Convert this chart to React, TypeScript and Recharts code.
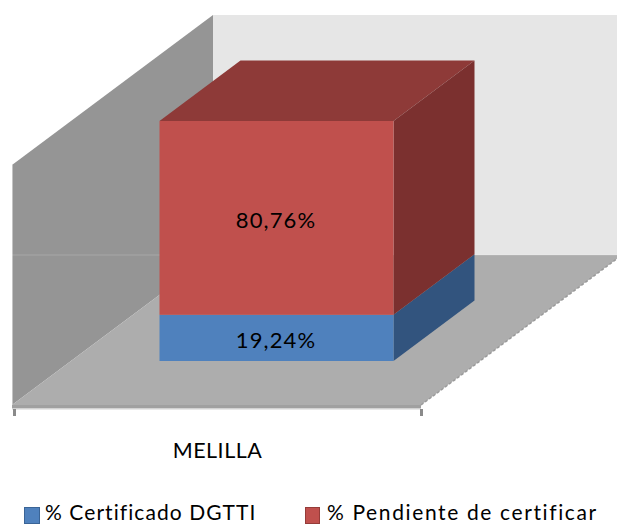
import React from "react";
import { BarChart, Bar, XAxis, YAxis, Legend, LabelList, Customized } from "recharts";

const categories = ["MELILLA"];
const certificado = [19.24];
const pendiente = [80.76];
const seriesNames = ["% Certificado DGTTI", "% Pendiente de certificar"];
const rows = categories.map((name, i) => ({ name, certificado: certificado[i], pendiente: pendiente[i] }));

const FONT = "Lato, Carlito, sans-serif";
const LEFT = 14, RIGHT = 421, TOP = 165, BOTTOM = 405;
const WALL_DX = 201, WALL_DY = -150;
const BAR_SHIFT_X = 58.5, BAR_SHIFT_Y = -44;
const BOX_DX = 81, BOX_DY = -60.5;

const pts = (a: number[][]) => a.map((p) => p.join(",")).join(" ");

const Walls = () => (
  <svg width={617} height={525} style={{ position: "absolute", left: 0, top: 0 }}>
    <rect x={LEFT - 2 + WALL_DX} y={TOP + WALL_DY} width={410} height={BOTTOM - TOP} fill="#e6e6e6" />
    <polygon
      points={pts([[LEFT - 2, TOP], [LEFT - 2 + WALL_DX, TOP + WALL_DY], [LEFT - 2 + WALL_DX, BOTTOM + WALL_DY], [LEFT - 2, BOTTOM]])}
      fill="#959595"
    />
    <polygon
      points={pts([[LEFT - 2, BOTTOM], [LEFT - 2 + WALL_DX, BOTTOM + WALL_DY], [RIGHT + WALL_DX, BOTTOM + WALL_DY], [RIGHT, BOTTOM]])}
      fill="#adadad"
    />
    <line x1={RIGHT} y1={BOTTOM} x2={RIGHT + WALL_DX} y2={BOTTOM + WALL_DY} stroke="#9a9a9a" strokeWidth={1.5} strokeDasharray="3 2" />
    <rect x={LEFT - 2} y={TOP} width={1} height={BOTTOM - TOP} fill="#c4c4c4" />
    <rect x={LEFT - 2} y={BOTTOM} width={RIGHT - LEFT + 2} height={3} fill="#a0a0a0" />
    <rect x={LEFT - 2} y={BOTTOM + 3} width={RIGHT - LEFT + 2} height={1.5} fill="#d2d2d2" />
  </svg>
);

const Overlay = () => (
  <line x1={LEFT - 2} x2={617} y1={BOTTOM + WALL_DY} y2={BOTTOM + WALL_DY} stroke="#ffffff" strokeOpacity={0.18} strokeWidth={1} />
);

const box = (front: string, side: string, topFace?: string) => (props: any) => {
  const x = props.x + BAR_SHIFT_X;
  const y = props.y + BAR_SHIFT_Y;
  const w = props.width;
  const h = props.height;
  return (
    <g>
      {topFace && (
        <polygon points={pts([[x, y], [x + BOX_DX, y + BOX_DY], [x + w + BOX_DX, y + BOX_DY], [x + w, y]])} fill={topFace} />
      )}
      <polygon points={pts([[x + w, y], [x + w + BOX_DX, y + BOX_DY], [x + w + BOX_DX, y + h + BOX_DY], [x + w, y + h]])} fill={side} />
      <rect x={x} y={y} width={w} height={h} fill={front} />
    </g>
  );
};

const barLabel = (props: any) => {
  const { x, y, width, height, value } = props;
  return (
    <text
      x={x + width / 2 + BAR_SHIFT_X - 0.5}
      y={y + height / 2 + BAR_SHIFT_Y + 2}
      textAnchor="middle"
      dominantBaseline="central"
      fontFamily={FONT}
      fontSize={22}
      letterSpacing={1.1}
      fill="#000"
    >
      {Number(value).toFixed(2).replace(".", ",") + "%"}
    </text>
  );
};

const axisTick = (props: any) => {
  const { x, payload } = props;
  const half = (RIGHT - LEFT) / 2;
  return (
    <g>
      <rect x={x - half - 1} y={BOTTOM + 4} width={3} height={7} fill="#8a8a8a" />
      <rect x={x + half - 1} y={BOTTOM + 4} width={3} height={7} fill="#8a8a8a" />
      <text x={x} y={458} textAnchor="middle" fontFamily={FONT} fontSize={21.5} letterSpacing={0.5} fill="#000">
        {payload.value}
      </text>
    </g>
  );
};

const legendContent = (props: any) => {
  const lefts = [24, 305];
  const spacing = [1.07, 1.62];
  const textLeft = [21, 22];
  const widths = [14, 13];
  return (
    <div style={{ position: "relative", width: 617, height: 22 }}>
      {(props.payload || []).map((p: any, i: number) => (
        <div key={i} style={{ position: "absolute", left: lefts[i], top: 0, whiteSpace: "nowrap", fontFamily: FONT, fontSize: 21, letterSpacing: spacing[i], lineHeight: "22px", color: "#000" }}>
          <span style={{ position: "absolute", left: 0, top: 6, width: widths[i], height: 15, background: p.color, border: `1px solid ${i === 0 ? "#3a6496" : "#953c39"}` }} />
          <span style={{ marginLeft: textLeft[i] }}>{p.value}</span>
        </div>
      ))}
    </div>
  );
};

export default function App() {
  return (
    <div style={{ position: "absolute", left: 0, top: 0, width: 617, height: 525, background: "#fff" }}>
      <Walls />
      <div style={{ position: "absolute", left: 0, top: 0 }}>
        <BarChart
          width={617}
          height={525}
          data={rows}
          barSize={234}
          margin={{ left: LEFT, right: 617 - RIGHT, top: TOP, bottom: 525 - BOTTOM - 60 }}
        >
          <XAxis dataKey="name" height={60} axisLine={false} tickLine={false} tick={axisTick} interval={0} />
          <YAxis hide domain={[0, 100]} />
          <Bar dataKey="certificado" name={seriesNames[0]} stackId="a" fill="#4f81bd" isAnimationActive={false} shape={box("#4f81bd", "#32547e")}>
            <LabelList dataKey="certificado" content={barLabel} />
          </Bar>
          <Bar dataKey="pendiente" name={seriesNames[1]} stackId="a" fill="#c0504d" isAnimationActive={false} shape={box("#c0504d", "#7b302f", "#8e3a38")}>
            <LabelList dataKey="pendiente" content={barLabel} />
          </Bar>
          <Customized component={Overlay} />
          <Legend
            layout="horizontal"
            verticalAlign="middle"
            align="center"
            content={legendContent}
            wrapperStyle={{ left: 0, top: 501, width: 617, height: 22 }}
          />
        </BarChart>
      </div>
    </div>
  );
}
